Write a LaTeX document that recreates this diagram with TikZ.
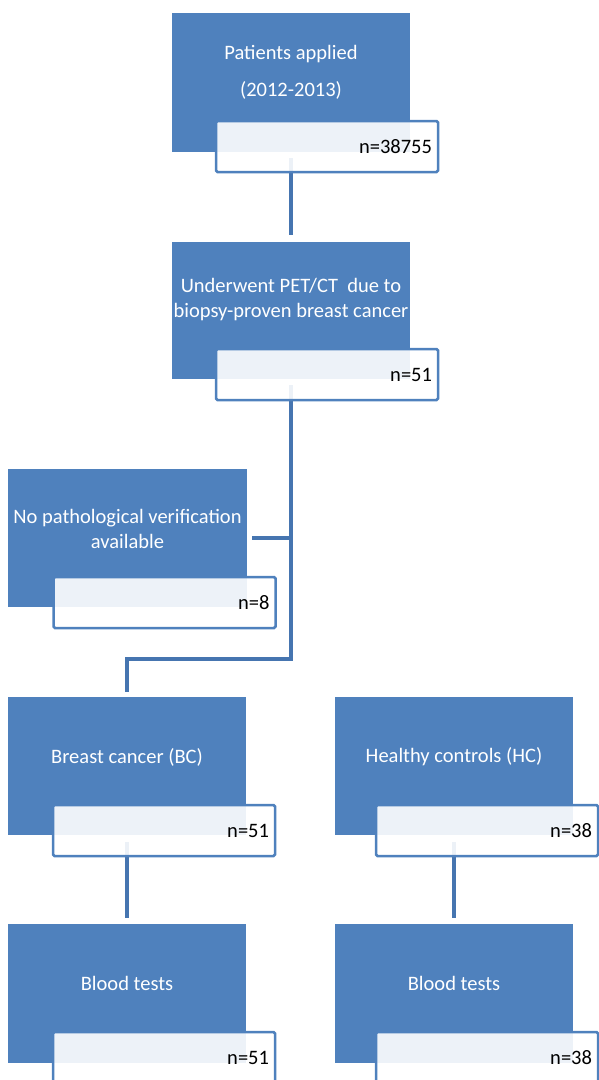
\documentclass[tikz,border=0pt]{standalone}
\usepackage{fontspec}
\setmainfont{Carlito}
\usetikzlibrary{calc}
\definecolor{bluefill}{HTML}{4F81BD}
\definecolor{lineblue}{HTML}{4675B0}
\begin{document}
\begin{tikzpicture}[x=1pt,y=-1pt,
  bluebox/.style={rectangle,fill=bluefill,draw=none,minimum width=238pt,minimum height=138pt,inner sep=0pt},
  btext/.style={text=white,align=center,inner sep=0pt,font=\fontsize{20.5}{25}\selectfont},
  nbox/.style={rectangle,draw=bluefill,line width=2.5pt,rounded corners=1.5pt,fill=white,fill opacity=0.9,text opacity=1,
    minimum width=222pt,minimum height=51pt,text width=210pt,inner xsep=6pt,inner ysep=0pt,align=right,
    font=\fontsize{20.5}{25}\selectfont},
  conn/.style={draw=lineblue,line width=4pt}]
\useasboundingbox (0,0) rectangle (599,1080);
\clip (0,0) rectangle (599,1080);
% blue boxes
\node[bluebox,minimum height=139pt] (b1) at (291,82.5) {};
\node[bluebox,minimum height=137pt] (b2) at (291,310.5) {};
\node[bluebox,minimum width=239pt] (b3) at (127.5,538) {};
\node[bluebox] (b4) at (127,766) {};
\node[bluebox] (b5) at (454,766) {};
\node[bluebox,minimum height=139pt] (b6) at (127,993.5) {};
\node[bluebox,minimum height=139pt] (b7) at (454,993.5) {};
% texts
\node[btext] (t1) at (291,72) {Patients applied\\[12pt](2012-2013)};
\node[btext] (t2) at (291,300) {Underwent PET/CT\ \ due to\\biopsy-proven breast cancer};
\node[btext] (t3) at (127.5,529) {No pathological verification\\available};
\node[btext] (t4) at (127,757) {Breast cancer (BC)};
\node[btext] (t5) at (454,757) {Healthy controls (HC)};
\node[btext] (t6) at (127,983) {Blood tests};
\node[btext] (t7) at (454,983) {Blood tests};
% connector helper coordinates
\coordinate (c2m) at (0,659);
\path (b1.south |- 0,172) coordinate (c1s);
\path (b2.south |- 0,401) coordinate (c2s);
\path (b4.south |- 0,856) coordinate (c4s);
\path (b5.south |- 0,856) coordinate (c5s);
% connectors
\draw[conn] ([yshift=14pt]c1s) -- ([yshift=7pt]b2.north);
\draw[conn,line join=miter] ([yshift=16pt]c2s) -- (c2s |- c2m) -| ([yshift=5pt]b4.north);
\draw[conn] ([xshift=5pt]b3.east) -- (b3.east -| c2s);
\draw[conn] ([yshift=14pt]c4s) -- ([yshift=6pt]b6.north);
\draw[conn] ([yshift=14pt]c5s) -- ([yshift=6pt]b7.north);
% count boxes
\node[nbox] (n1) at (327,146.5) {n=38755};
\node[nbox] (n2) at (327,374.5) {n=51};
\node[nbox] (n3) at (164.5,602.5) {n=8};
\node[nbox] (n4) at (164,830.5) {n=51};
\node[nbox] (n5) at (487,830.5) {n=38};
\node[nbox] (n6) at (164,1057.5) {n=51};
\node[nbox] (n7) at (487,1057.5) {n=38};
\end{tikzpicture}
\end{document}
